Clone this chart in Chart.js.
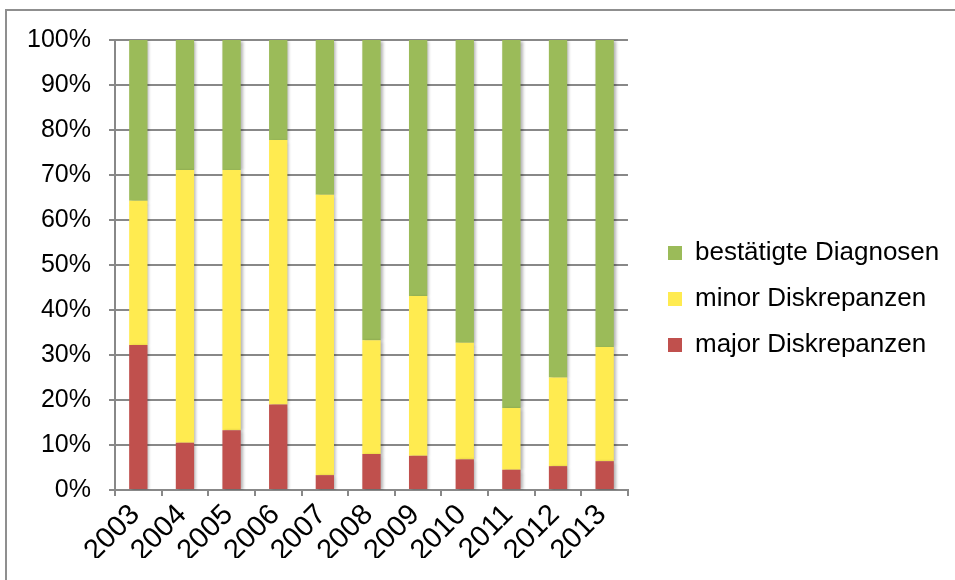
<!DOCTYPE html>
<html>
<head>
<meta charset="utf-8">
<script src="https://cdn.jsdelivr.net/npm/chart.js@4"></script>
<style>
  html, body { margin: 0; padding: 0; background: #fff; overflow: hidden; }
  #wrap { position: relative; width: 955px; height: 580px; }
  #frame { position: absolute; left: 5px; top: 9px; width: 970px; height: 600px;
           border: 2px solid #8f8f8f; box-sizing: border-box; }
  #chart { position: absolute; left: 0; top: 0; }
</style>
</head>
<body>
<div id="wrap">
  <div id="frame"></div>
  <canvas id="chart" width="955" height="580"></canvas>
</div>
<script>
const years = ['2003', '2004', '2005', '2006', '2007', '2008', '2009', '2010', '2011', '2012', '2013'];
const major = [32.2, 10.5, 13.3, 19.0, 3.3, 8.0, 7.6, 6.8, 4.5, 5.3, 6.4];
const minor = [32.1, 60.6, 57.8, 58.8, 62.3, 25.3, 35.5, 25.9, 13.7, 19.7, 25.4];
const confirmed = [35.7, 28.9, 28.9, 22.2, 34.4, 66.7, 56.9, 67.3, 81.8, 75.0, 68.2];
const yTicks = [0, 10, 20, 30, 40, 50, 60, 70, 80, 90, 100];

const FONT = "'Liberation Sans', Arial, sans-serif";
const GRID = '#888888';

// soft drop shadow like the office bars
const barShadow = {
  id: 'barShadow',
  beforeDatasetsDraw(chart) {
    const c = chart.ctx;
    c.save();
    c.shadowColor = 'rgba(0,0,0,0.3)';
    c.shadowBlur = 3;
    c.shadowOffsetX = 2;
    c.shadowOffsetY = 1;
  },
  afterDatasetsDraw(chart) {
    chart.ctx.restore();
  }
};

// the legend gets capped in width by the layout, so give it the room on the right
const legendPlace = {
  id: 'legendPlace',
  afterLayout(chart) {
    const lg = chart.legend;
    lg.left = chart.chartArea.right + 20;
    lg.right = chart.width;
    lg.width = lg.right - lg.left;
  }
};

new Chart(document.getElementById('chart'), {
  type: 'bar',
  data: {
    labels: years,
    datasets: [
      { label: 'major Diskrepanzen', data: major, backgroundColor: '#C0504D' },
      { label: 'minor Diskrepanzen', data: minor, backgroundColor: '#FFEB50' },
      { label: 'bestätigte Diagnosen', data: confirmed, backgroundColor: '#9BBB59' }
    ]
  },
  options: {
    responsive: false,
    animation: false,
    devicePixelRatio: 1,
    layout: { padding: { top: 40, left: 0, right: 117.7, bottom: 22 } },
    datasets: {
      bar: { categoryPercentage: 1, barPercentage: 0.393, borderWidth: 0 }
    },
    plugins: {
      title: { display: false },
      tooltip: { enabled: false },
      legend: {
        position: 'right',
        reverse: true,
        labels: {
          boxWidth: 14,
          boxHeight: 14,
          padding: 20,
          color: '#000',
          font: { family: FONT, size: 26 }
        }
      }
    },
    scales: {
      x: {
        stacked: true,
        afterFit(scale) { scale.height = 68; },
        grid: { drawOnChartArea: false, drawTicks: true, tickLength: 6, color: GRID, lineWidth: 2 },
        border: { color: GRID, width: 2 },
        ticks: {
          autoSkip: false,
          minRotation: 45,
          maxRotation: 45,
          padding: 2,
          labelOffset: -3,
          color: '#000',
          font: { family: FONT, size: 29 }
        }
      },
      y: {
        stacked: true,
        min: 0,
        max: 100,
        afterFit(scale) { scale.width = 115; },
        afterBuildTicks(scale) { scale.ticks = yTicks.map(v => ({ value: v })); },
        grid: { color: GRID, lineWidth: 2, tickLength: 6 },
        border: { color: GRID, width: 2 },
        ticks: {
          padding: 18,
          color: '#000',
          font: { family: FONT, size: 25 },
          callback: v => v + '%'
        }
      }
    }
  },
  plugins: [barShadow, legendPlace]
});
</script>
</body>
</html>
